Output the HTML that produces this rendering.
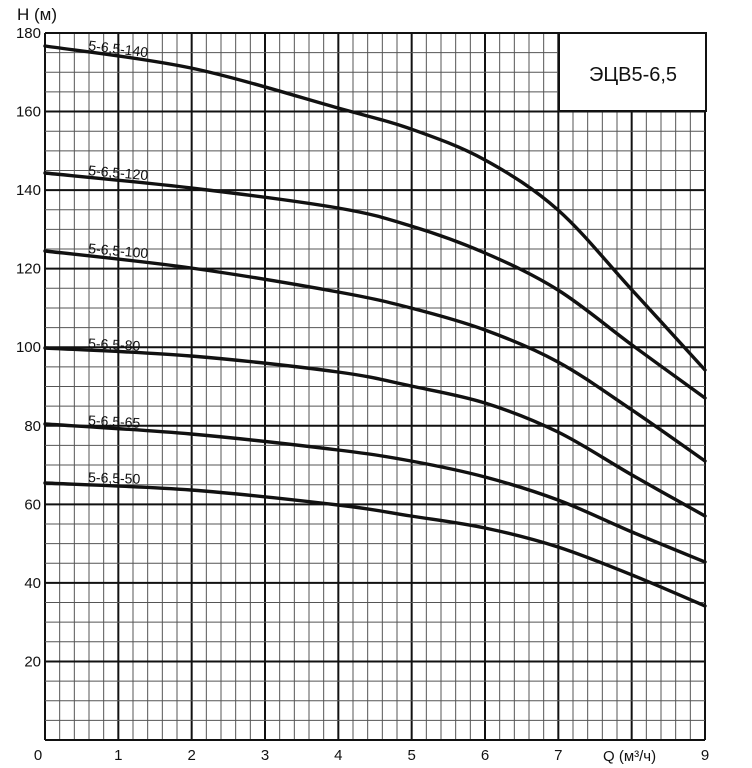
<!DOCTYPE html>
<html><head><meta charset="utf-8"><style>
body{margin:0;background:#fff}
svg{display:block;font-family:"Liberation Sans",sans-serif}
</style></head><body>
<svg id="s" width="752" height="768" viewBox="0 0 752 768" xmlns="http://www.w3.org/2000/svg">
<g id="grid"></g>
<rect x="559" y="33" width="147" height="78" fill="#fff" stroke="#111" stroke-width="2"/>
<text x="633" y="81" font-size="20" text-anchor="middle" fill="#111">ЭЦВ5-6,5</text>
<g id="curves" fill="none" stroke="#111" stroke-width="3.4" stroke-linecap="round"></g>
<g font-size="14" fill="#111">
<text x="88" y="50" transform="rotate(7 88 50)">5-6,5-140</text>
<text x="88" y="175" transform="rotate(5 88 175)">5-6,5-120</text>
<text x="88" y="253" transform="rotate(5 88 253)">5-6,5-100</text>
<text x="88" y="348" transform="rotate(3 88 348)">5-6,5-80</text>
<text x="88" y="425" transform="rotate(3 88 425)">5-6,5-65</text>
<text x="88" y="482" transform="rotate(2 88 482)">5-6,5-50</text>
</g>
<g font-size="15" fill="#111" text-anchor="end" id="ylab"></g>
<g font-size="15" fill="#111" text-anchor="middle" id="xlab"></g>
<text x="17" y="20" font-size="17" fill="#111">H (м)</text>
<text x="603" y="761" font-size="15" fill="#111">Q (м³/ч)</text>
</svg>
<script>
var NS="http://www.w3.org/2000/svg";
function el(p,t,a){var e=document.createElementNS(NS,t);for(var k in a)e.setAttribute(k,a[k]);p.appendChild(e);return e;}
var L=45,R=705,T=33,B=740;
var g=document.getElementById('grid');
var ux=(R-L)/9, uy=(B-T)/180;
for(var i=0;i<=45;i++){var x=L+i*ux/5;var maj=i%5==0;
 el(g,'line',{x1:x,y1:T,x2:x,y2:B,stroke:maj?'#111':'#555','stroke-width':maj?2:1});}
for(var j=0;j<=36;j++){var y=B-j*uy*5;var maj=j%4==0;
 el(g,'line',{x1:L,y1:y,x2:R,y2:y,stroke:maj?'#111':'#555','stroke-width':maj?2:1});}
var yl=document.getElementById('ylab');
for(var v=20;v<=180;v+=20){var t=el(yl,'text',{x:41,y:B-v*uy+5});t.textContent=v;}
var xl=document.getElementById('xlab');
var t0=el(xl,'text',{x:38,y:760});t0.textContent='0';
for(var q=1;q<=9;q++){if(q==8)continue;var t=el(xl,'text',{x:L+q*ux,y:760});t.textContent=q;}
var xs=[45,191,338,411,485,558,632,705];
var cs=[[46,68,108,129,160,210,290,370],[173,188,208,226,253,290,345,398],[251,268,292,308,330,362,410,461],
[348,356,372,386,403,432,475,516],[424,434,450,461,477,500,532,562],[483,490,505,516,528,547,575,606]];
var cg=document.getElementById('curves');
cs.forEach(function(ys){var P=xs.map(function(x,i){return[x,ys[i]];});
 var d='M'+P[0][0]+','+P[0][1];
 for(var i=0;i<P.length-1;i++){var p0=P[Math.max(0,i-1)],p1=P[i],p2=P[i+1],p3=P[Math.min(P.length-1,i+2)];
  var c1=[p1[0]+(p2[0]-p0[0])/6,p1[1]+(p2[1]-p0[1])/6],c2=[p2[0]-(p3[0]-p1[0])/6,p2[1]-(p3[1]-p1[1])/6];
  d+=' C'+c1+' '+c2+' '+p2;}
 el(cg,'path',{d:d});});
</script>
</body></html>
